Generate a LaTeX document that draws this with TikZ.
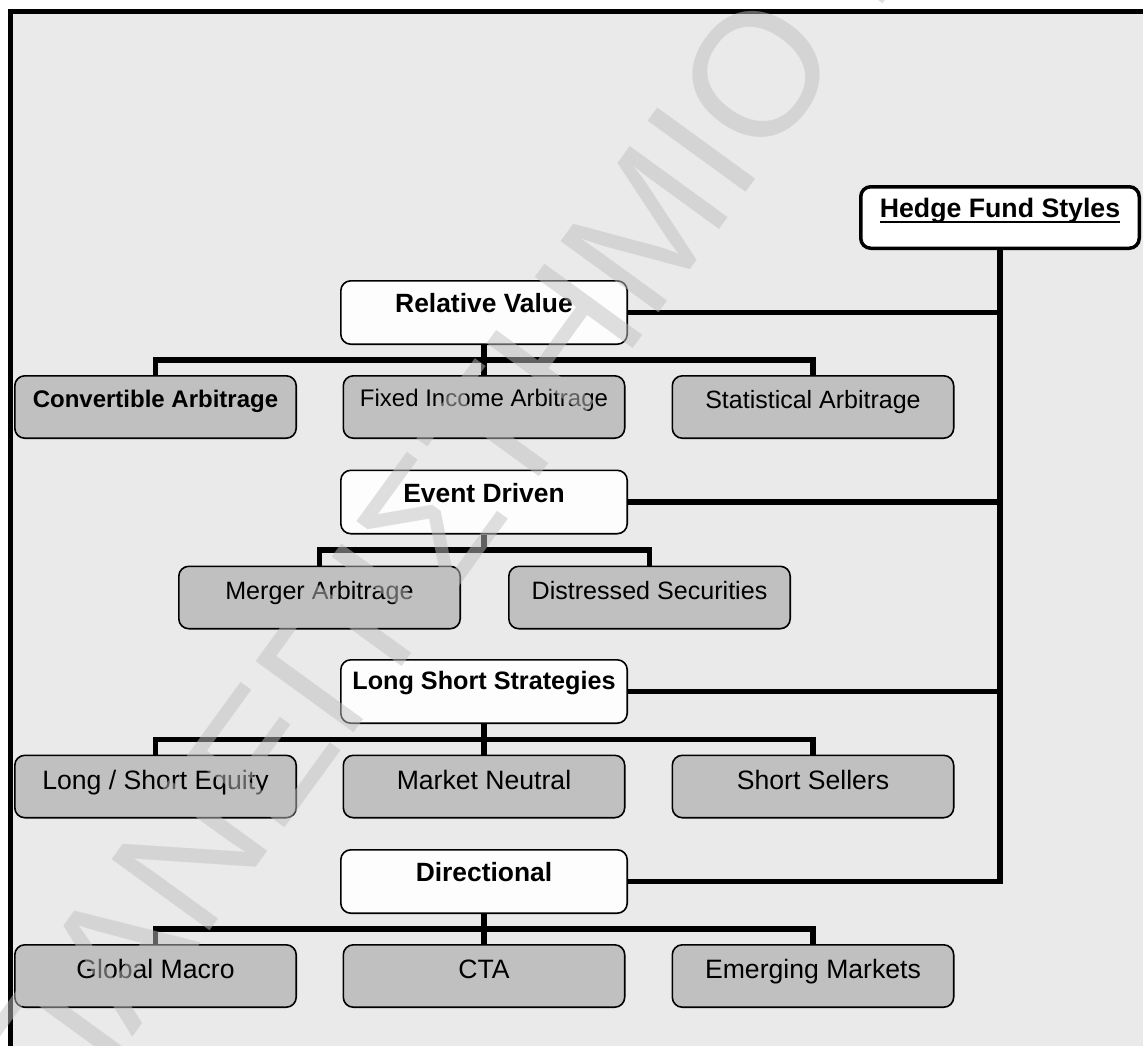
\documentclass[tikz,border=0pt]{standalone}
\usepackage{fontspec}
\setmainfont{Liberation Sans}
\usetikzlibrary{calc,backgrounds}
\definecolor{bgc}{HTML}{EAEAEA}
\definecolor{kidc}{HTML}{C0C0C0}
\definecolor{parc}{HTML}{FDFDFD}
\definecolor{wmc}{HTML}{C0C0C0}
\newcommand\hfsul[1]{\setbox0\hbox{#1}\rlap{\rule[-5.5pt]{\wd0}{2.2pt}}\box0}
\begin{document}
\begin{tikzpicture}[x=1pt,y=-1pt,
  boxbase/.style={draw=black, rounded corners=10pt, inner sep=0pt, align=center},
  kid/.style={boxbase, fill=kidc, line width=1.6pt, minimum width=281.4pt,
    text height=32pt, text depth=30.4pt, font=\fontsize{24.5}{28}\selectfont},
  kidlow/.style={kid, text height=34pt, text depth=28.4pt, font=\fontsize{26.6}{30}\selectfont},
  par/.style={boxbase, fill=parc, line width=1.6pt, minimum width=286.4pt,
    text height=32pt, text depth=31.4pt, font=\bfseries\fontsize{26.4}{30}\selectfont},
  top/.style={boxbase, fill=white, line width=3.5pt, minimum width=278.5pt,
    text height=31.2pt, text depth=30.3pt, font=\bfseries\fontsize{26.7}{30}\selectfont},
  conn/.style={line width=5.5pt},
  ]
\useasboundingbox (0,0) rectangle (1143,1046);

% top node
\node[top] (hedge) at (1000,217.5) {\hfsul{Hedge Fund Styles}};

% parents
\node[par] (rv)  at (484,312.5) {Relative Value};
\node[par] (ed)  at (484,502)   {Event Driven};
\node[par, text height=29.5pt, text depth=33.9pt, font=\bfseries\fontsize{25.2}{30}\selectfont] (lss) at (484,691.5) {Long Short Strategies};
\node[par] (dir) at (484,881.5) {Directional};

% row 1
\node[kid, font=\bfseries\fontsize{24}{28}\selectfont] (c1) at (155.5,407) {Convertible Arbitrage};
\node[kid, text height=31pt, text depth=31.4pt, font=\fontsize{24}{28}\selectfont] (c2) at (484,407) {Fixed Income Arbitrage};
\node[kid, text height=32.5pt, text depth=29.9pt, font=\fontsize{25}{28}\selectfont] (c3) at (813,407) {Statistical Arbitrage};

% row 2
\node[kid, text height=33pt, text depth=29.4pt, font=\fontsize{25.1}{28}\selectfont] (m1) at (319.5,597.5) {Merger Arbitrage};
\node[kid, text height=33pt, text depth=29.4pt, font=\fontsize{25.1}{28}\selectfont] (m2) at (649.5,597.5) {Distressed Securities};

% row 3
\node[kidlow] (l1) at (155.5,786.5) {Long / Short Equity};
\node[kidlow] (l2) at (484,786.5)   {Market Neutral};
\node[kidlow] (l3) at (813,786.5)   {Short Sellers};

% row 4
\node[kidlow] (d1) at (155.5,976) {Global Macro};
\node[kidlow] (d2) at (484,976)   {CTA};
\node[kidlow] (d3) at (813,976)   {Emerging Markets};

\coordinate (b1) at ($(rv.south)!0.5!(c2.north)$);
\coordinate (b2) at ($(ed.south)!0.5!(c2.north |- m1.north)$);
\coordinate (b3) at ($(lss.south)!0.5!(l2.north)$);
\coordinate (b4) at ($(dir.south)!0.5!(d2.north)$);

\begin{pgfonlayer}{background}
  \fill[bgc] (8.3,9.3) rectangle (1143,1046);
  \draw[line width=4.8pt, line join=miter] (10.8,1046) -- (10.8,11.6) -- (1143,11.6);
  % trunk
  \draw[conn, line join=miter] (hedge.south) |- (dir.east);
  \draw[conn] (rv.east) -- (rv.east -| hedge.south);
  \draw[conn] (ed.east) -- (ed.east -| hedge.south);
  \draw[conn] (lss.east) -- (lss.east -| hedge.south);
  % buses
  \draw[conn] (rv.south) -- (c2.north);
  \draw[conn, line join=miter] (c1.north) |- (b1) -| (c3.north);
  \draw[conn] (ed.south) -- (b2);
  \draw[conn, line join=miter] (m1.north) |- (b2) -| (m2.north);
  \draw[conn] (lss.south) -- (l2.north);
  \draw[conn, line join=miter] (l1.north) |- (b3) -| (l3.north);
  \draw[conn] (dir.south) -- (d2.north);
  \draw[conn, line join=miter] (d1.north) |- (b4) -| (d3.north);
\end{pgfonlayer}

% watermark
\node[rotate=54, anchor=base west, inner sep=0pt, text=wmc, opacity=0.5,
  font=\fontsize{176}{180}\selectfont] (wm) at (58,1140) {ΠΑΝΕΠΙΣΤΗΜΙΟ ΠΕΙΡΑΙΩΣ};
\end{tikzpicture}
\end{document}
